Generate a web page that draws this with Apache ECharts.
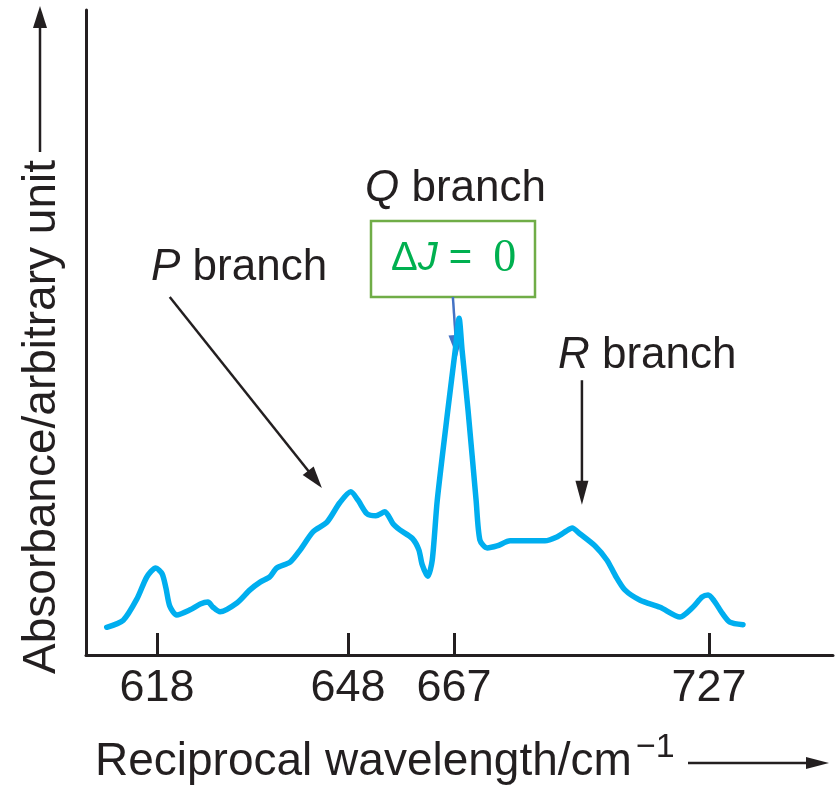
<!DOCTYPE html>
<html><head><meta charset="utf-8">
<script src="https://cdn.jsdelivr.net/npm/echarts@6/dist/echarts.min.js"></script>
<style>html,body{margin:0;padding:0;background:#fff}#c{width:839px;height:787px}</style>
</head><body><div id="c"></div>
<script>
// ---- data ----
const tickValues = [618, 648, 667, 727];
const tickLabels = ['618', '648', '667', '727'];
const wavenumber = [610.1, 612.7, 614.9, 616.4, 617.8, 618.8, 619.4, 620.0, 621.1, 623.2, 624.8, 626.0, 626.8, 627.9,
  630.6, 632.6, 634.2, 635.7, 636.8, 638.9, 640.5, 642.5, 644.7, 646.7, 648.5, 649.8, 651.4, 653.0, 654.6, 656.1,
  657.3, 659.5, 660.7, 661.3, 662.3, 663.1, 664.0, 665.9, 667.3, 668.2, 668.9, 670.3, 672.2, 673.1, 674.8, 677.1,
  680.2, 684.9, 688.4, 691.2, 693.4, 694.8, 696.6, 700.2, 703.0, 704.9, 707.2, 710.8, 715.5, 720.2, 723.2, 725.4,
  726.8, 728.2, 730.1, 731.9, 735.0];
const absorbance = [4.3, 5.4, 8.8, 12.1, 13.5, 12.6, 10.4, 7.6, 6.2, 7.0, 7.9, 8.2, 7.4, 6.7,
  8.1, 10.1, 11.3, 12.1, 13.5, 14.4, 16.3, 19.1, 20.6, 23.6, 25.3, 24.0, 21.9, 21.6, 22.2, 20.3,
  19.4, 18.1, 16.3, 14.0, 12.2, 14.7, 24.0, 38.0, 47.3, 52.2, 47.3, 38.0, 24.0, 17.8, 16.6, 16.9,
  17.7, 17.7, 17.7, 18.3, 19.2, 19.7, 18.8, 16.9, 14.7, 12.4, 10.1, 8.5, 7.4, 5.9, 7.4, 9.0,
  9.3, 8.4, 6.5, 5.1, 4.7];
// annotation arrows: [start, end] in (wavenumber, absorbance)
const pArrow = [[620.0, 55.5], [643.9, 25.9]];
const qArrow = [[666.8, 55.5], [667.7, 46.2]];
const rArrow = [[697.1, 42.6], [697.1, 23.3]];

// ---- schematic (non-linear) axis layout ----
const tickPos = [71, 262, 368, 623];
const axisSpan = 747;
function warp(w) {
  const t = tickValues, p = tickPos;
  let i = 0;
  if (w > t[2]) i = 2; else if (w > t[1]) i = 1;
  return p[i] + (w - t[i]) * (p[i + 1] - p[i]) / (t[i + 1] - t[i]);
}
const tickCoords = tickValues.map(warp);
function labelFor(v) {
  let best = 0;
  tickCoords.forEach((c, i) => { if (Math.abs(c - v) < Math.abs(tickCoords[best] - v)) best = i; });
  return tickLabels[best];
}

const INK = '#231F20';
const SANS = '"Liberation Sans", Arial, sans-serif';

const chart = echarts.init(document.getElementById('c'), null, { renderer: 'canvas' });
chart.setOption({
  animation: false,
  backgroundColor: '#ffffff',
  grid: { left: 86, right: 6, top: 10, bottom: 132 },
  xAxis: {
    type: 'value', min: 0, max: axisSpan,
    axisLine: { show: true, onZero: false, lineStyle: { color: INK, width: 3 } },
    axisTick: { show: true, inside: true, length: 22, customValues: tickCoords, lineStyle: { color: INK, width: 3 } },
    axisLabel: { show: true, customValues: tickCoords, formatter: v => labelFor(v), margin: 11,
      fontSize: 45, fontFamily: SANS, color: INK },
    splitLine: { show: false }
  },
  yAxis: {
    type: 'value', min: 0, max: 100,
    axisLine: { show: true, onZero: false, lineStyle: { color: INK, width: 3 } },
    axisTick: { show: false }, axisLabel: { show: false }, splitLine: { show: false }
  },
  series: [{
    type: 'line',
    data: wavenumber.map((w, i) => [warp(w), absorbance[i]]),
    showSymbol: false, smooth: 0.25,
    lineStyle: { color: '#00AEEF', width: 5.5, cap: 'round', join: 'round' }
  }]
});

// arrows anchored to data coordinates
function arrow(a, color, width, len, half) {
  const s = chart.convertToPixel({ gridIndex: 0 }, [warp(a[0][0]), a[0][1]]);
  const e = chart.convertToPixel({ gridIndex: 0 }, [warp(a[1][0]), a[1][1]]);
  const dx = e[0] - s[0], dy = e[1] - s[1], L = Math.hypot(dx, dy);
  const ux = dx / L, uy = dy / L;
  const bx = e[0] - ux * len, by = e[1] - uy * len;
  return [
    { type: 'line', shape: { x1: s[0], y1: s[1], x2: bx + ux * 2, y2: by + uy * 2 }, style: { stroke: color, lineWidth: width } },
    { type: 'polygon', shape: { points: [e, [bx - uy * half, by + ux * half], [bx + uy * half, by - ux * half]] },
      style: { fill: color } }
  ];
}

const italicRich = { i: { fontStyle: 'italic', fontSize: 44, fontFamily: SANS, fill: INK } };
chart.setOption({
  graphic: [
    // y axis title + arrow
    { type: 'text', x: 42, y: 417, rotation: Math.PI / 2,
      style: { text: 'Absorbance/arbitrary unit', align: 'center', verticalAlign: 'middle',
        font: '46px ' + SANS, fill: INK } },
    { type: 'line', shape: { x1: 40, y1: 152, x2: 40, y2: 24 }, style: { stroke: INK, lineWidth: 2.5 } },
    { type: 'polygon', shape: { points: [[40, 6], [33, 28], [47, 28]] }, style: { fill: INK } },
    // x axis title + arrow
    { type: 'text', style: { x: 95, y: 762, text: 'Reciprocal wavelength/cm', align: 'left', verticalAlign: 'middle',
        font: '46px ' + SANS, fill: INK } },
    { type: 'text', style: { x: 636, y: 748, text: '\u22121', align: 'left', verticalAlign: 'middle',
        font: '34px ' + SANS, fill: INK } },
    { type: 'line', shape: { x1: 688, y1: 763, x2: 810, y2: 763 }, style: { stroke: INK, lineWidth: 2.5 } },
    { type: 'polygon', shape: { points: [[829, 763], [806, 757], [806, 769]] }, style: { fill: INK } },
    // branch labels
    { type: 'text', style: { x: 151, y: 268, text: '{i|P} branch', align: 'left', verticalAlign: 'middle',
        font: '44px ' + SANS, fill: INK, rich: italicRich } },
    { type: 'text', style: { x: 365, y: 189, text: '{i|Q} branch', align: 'left', verticalAlign: 'middle',
        font: '44px ' + SANS, fill: INK, rich: italicRich } },
    { type: 'text', style: { x: 558, y: 356, text: '{i|R} branch', align: 'left', verticalAlign: 'middle',
        font: '44px ' + SANS, fill: INK, rich: italicRich } },
    // Delta J box
    { type: 'rect', shape: { x: 371, y: 221, width: 164, height: 76 },
      style: { fill: 'none', stroke: '#70AD47', lineWidth: 2.5 } },
    { type: 'text', style: { x: 391, y: 259, text: '{s|\u0394}{j|J}{s| = }{z|0}', align: 'left', verticalAlign: 'middle',
        rich: {
          s: { fontSize: 40, fontFamily: SANS, fill: '#00B050' },
          j: { fontSize: 40, fontFamily: SANS, fontStyle: 'italic', fill: '#00B050' },
          z: { fontSize: 46, fontFamily: '"Liberation Serif", "Times New Roman", serif', fill: '#00B050', padding: [0, 0, 0, 10] }
        } } },
    ...arrow(pArrow, INK, 2.5, 22, 7),
    ...arrow(rArrow, INK, 2.5, 24, 6.5),
    ...arrow(qArrow, '#4472C4', 2.5, 22, 7)
  ]
});
</script></body></html>
